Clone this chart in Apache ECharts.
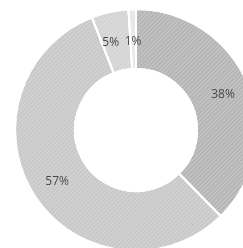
<!DOCTYPE html>
<html><head><meta charset="utf-8">
<script src="https://cdn.jsdelivr.net/npm/echarts@6/dist/echarts.min.js"></script>
<style>html,body{margin:0;padding:0;background:#fff}#c{width:243px;height:248px}</style>
</head><body><div id="c"></div>
<script>
var categories = ['A', 'B', 'C', 'D'];
var values = [38, 57, 5, 1];
var colors = ['#b5b5b5', '#c8c8c8', '#d3d3d3', '#e6e6e6'];
var chart = echarts.init(document.getElementById('c'), null, {renderer: 'canvas'});
chart.setOption({
  backgroundColor: '#ffffff',
  animation: false,
  series: [{
    type: 'pie',
    center: [136, 130],
    radius: [61, 121],
    startAngle: 90,
    clockwise: true,
    avoidLabelOverlap: false,
    data: categories.map(function (c, i) {
      var d = {name: c, value: values[i], itemStyle: {color: colors[i]}};
      if (i === 2) d.label = {offset: [-5, 4]};
      if (i === 3) d.label = {offset: [0, 6]};
      return d;
    }),
    itemStyle: {
      borderColor: '#ffffff',
      borderWidth: 2,
      decal: {symbol: 'rect', symbolSize: 1, dashArrayX: [1, 0], dashArrayY: [1, 2], rotation: -Math.PI / 4, color: 'rgba(255,255,255,0.25)'}
    },
    label: {
      show: true,
      position: 'inside',
      formatter: '{c}%',
      color: '#4a4a4a',
      fontFamily: 'Open Sans',
      fontSize: 12
    },
    labelLine: {show: false}
  }]
});
</script></body></html>
